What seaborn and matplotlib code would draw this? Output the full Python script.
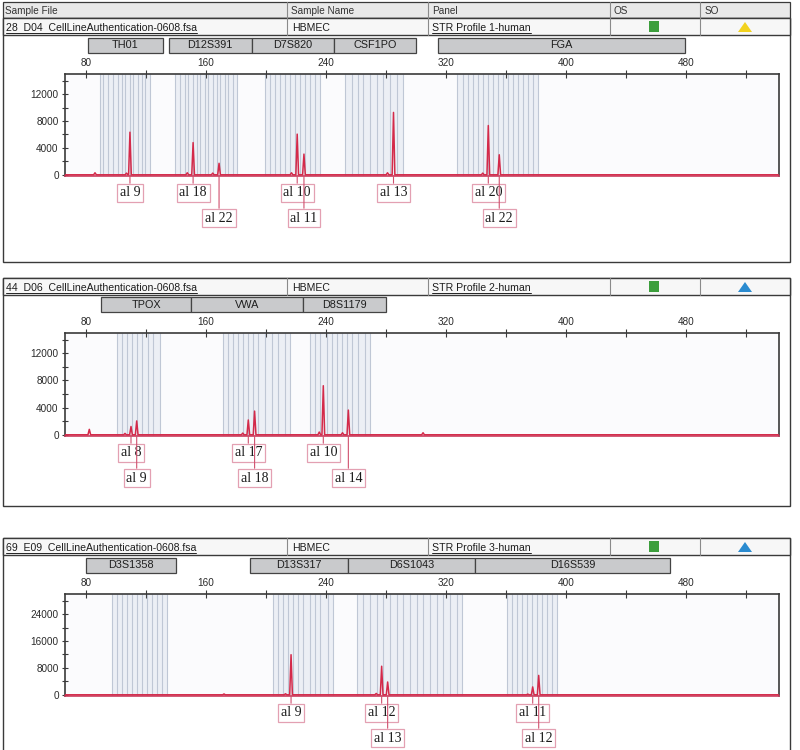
import matplotlib
matplotlib.use('Agg')
import matplotlib.pyplot as plt
import matplotlib.transforms as mtransforms
from matplotlib.patches import Rectangle, Polygon
import pandas as pd
import seaborn as sns

sns.set_theme(style='white')
plt.rcParams['font.family'] = ['Liberation Sans', 'DejaVu Sans']

# ---- data (bp, RFU) ----
p1_files = "28  D04  CellLineAuthentication-0608.fsa"
p2_files = "44  D06  CellLineAuthentication-0608.fsa"
p3_files = "69  E09  CellLineAuthentication-0608.fsa"
sample_name = "HBMEC"
panel_names = ["STR Profile 1-human", "STR Profile 2-human", "STR Profile 3-human"]

p1_markers = ["TH01", "D12S391", "D7S820", "CSF1PO", "FGA"]
p1_marker_start = [81.3, 135.0, 190.7, 245.3, 314.7]
p1_marker_end = [131.0, 190.7, 245.3, 300.0, 479.3]
p2_markers = ["TPOX", "VWA", "D8S1179"]
p2_marker_start = [90.0, 150.0, 224.7]
p2_marker_end = [150.0, 224.7, 280.0]
p3_markers = ["D3S1358", "D13S317", "D6S1043", "D16S539"]
p3_marker_start = [79.8, 189.3, 254.5, 339.3]
p3_marker_end = [139.8, 254.5, 339.3, 469.3]

p1_peak_bp = [86.0, 107.0, 109.3, 147.5, 151.4, 164.5, 168.7, 217.0, 220.8, 225.3, 281.0, 285.0, 344.5, 348.2, 355.5]
p1_peak_rfu = [300, 250, 6340, 300, 4790, 250, 1710, 300, 6050, 3080, 300, 9280, 250, 7330, 2980]
p2_peak_bp = [82.2, 106.0, 110.0, 113.8, 184.5, 188.2, 192.4, 235.5, 238.2, 251.0, 254.9, 304.7]
p2_peak_rfu = [800, 200, 1220, 2040, 250, 2180, 3490, 400, 7230, 300, 3640, 300]
p3_peak_bp = [172.0, 213.0, 216.7, 273.5, 277.1, 281.1, 374.5, 377.8, 381.8]
p3_peak_rfu = [250, 300, 11930, 400, 8500, 3810, 200, 2340, 5770]

p1_alleles = ["al 9", "al 18", "al 22", "al 10", "al 11", "al 13", "al 20", "al 22"]
p1_allele_bp = [109.3, 151.4, 168.7, 220.8, 225.3, 285.0, 348.2, 355.5]
p1_allele_row = [0, 0, 1, 0, 1, 0, 0, 1]
p2_alleles = ["al 8", "al 9", "al 17", "al 18", "al 10", "al 14"]
p2_allele_bp = [110.0, 113.8, 188.2, 192.4, 238.2, 254.9]
p2_allele_row = [0, 1, 0, 1, 0, 1]
p3_alleles = ["al 9", "al 12", "al 13", "al 11", "al 12"]
p3_allele_bp = [216.7, 277.1, 281.1, 377.8, 381.8]
p3_allele_row = [0, 0, 1, 0, 1]

# allele bins (bp)
p1_bins = [89.3, 91.5, 94.9, 98.2, 101.5, 103.8, 106.0, 109.3, 111.5, 114.9, 117.1, 119.3, 122.7,
           139.3, 142.7, 146.0, 148.2, 151.5, 153.8, 156.0, 159.3, 161.5, 164.9, 167.1, 169.3, 172.7, 174.9, 178.2, 180.4,
           199.3, 202.7, 206.0, 209.3, 212.7, 216.0, 219.3, 222.7, 226.0, 229.3, 232.7, 236.0,
           252.7, 257.1, 261.5, 264.9, 269.3, 273.8, 278.2, 282.7, 287.1, 291.5,
           327.1, 331.5, 334.9, 338.2, 341.5, 344.9, 348.2, 351.5, 354.9, 358.2, 361.5, 364.9, 368.2, 371.5, 374.9, 378.2, 381.5]
p2_bins = [100.4, 103.8, 107.1, 110.4, 113.8, 117.1, 121.5, 124.9, 129.3,
           171.5, 174.9, 178.2, 181.5, 184.9, 188.2, 191.5, 194.9, 199.3, 203.8, 208.2, 212.7, 216.0,
           229.3, 232.7, 236.0, 240.4, 243.8, 247.1, 250.4, 253.8, 257.1, 261.5, 266.0, 269.3]
p3_bins = [97.1, 100.4, 103.8, 107.1, 110.4, 113.8, 117.1, 120.4, 123.8, 127.1, 130.4, 133.8,
           204.9, 208.2, 211.5, 214.9, 218.2, 221.5, 224.9, 229.3, 232.7, 236.0, 241.5, 244.9,
           260.4, 264.9, 269.3, 273.8, 278.2, 282.7, 287.1, 291.5, 296.0, 300.4, 304.9, 309.3, 313.8, 318.2, 322.7, 327.1, 330.4,
           360.4, 363.8, 367.1, 370.4, 373.8, 377.1, 380.4, 383.8, 387.1, 390.4, 393.8]

# ---- layout (pixels) ----
W, H = 800, 750
fig = plt.figure(figsize=(8, 7.5), dpi=100)
fig.patch.set_facecolor('white')

bg = fig.add_axes([0, 0, 1, 1])
bg.set_xlim(0, W)
bg.set_ylim(H, 0)
bg.axis('off')

EDGE = '#3a3a3a'
cols = [287, 428, 610, 700]
underlines = []

# top table header
bg.add_patch(Rectangle((3, 2), 787, 16, fc='#e9e9e9', ec=EDGE, lw=0.9))
for cx in cols:
    bg.plot([cx, cx], [2, 18], color='#8a8a8a', lw=0.8)
for txt, cx in zip(["Sample File", "Sample Name", "Panel", "OS", "SO"], [5, 291, 432, 614, 705]):
    bg.text(cx, 10.5, txt, fontsize=7.2, color='#333333', va='center', ha='left')


def sample_row(y0, y1, fname, pname, tri_color):
    # outer frame of the panel
    bg.add_patch(Rectangle((3, y0), 787, y1 - y0, fc='none', ec=EDGE, lw=1.0))
    bg.add_patch(Rectangle((3, y0), 787, 17, fc='#f7f7f7', ec=EDGE, lw=1.0))
    for cx in cols:
        bg.plot([cx, cx], [y0, y0 + 17], color='#8a8a8a', lw=0.8)
    t1 = bg.text(6, y0 + 10, fname, fontsize=7.6, color='#1e1e1e', va='center')
    bg.text(292, y0 + 10, sample_name, fontsize=7.6, color='#1e1e1e', va='center')
    t3 = bg.text(432, y0 + 10, pname, fontsize=7.6, color='#1e1e1e', va='center')
    underlines.extend([(t1, y0 + 15), (t3, y0 + 15)])
    bg.add_patch(Rectangle((649, y0 + 3), 10, 11, fc='#3c9e3c', ec='none'))
    bg.add_patch(Polygon([(738, y0 + 14), (752, y0 + 14), (745, y0 + 4)], closed=True, fc=tri_color, ec='none'))


sample_row(18, 262, p1_files, panel_names[0], '#f2d21e')
sample_row(278, 506, p2_files, panel_names[1], '#2a8bd0')
sample_row(538, 752, p3_files, panel_names[2], '#2a8bd0')


def px_axes(x0, y0, x1, y1):
    return fig.add_axes([x0 / W, 1 - y1 / H, (x1 - x0) / W, (y1 - y0) / H])


def trace(bps, rfus, hw=0.9):
    xs, ys = [66.0], [0.0]
    for p, h in sorted(zip(bps, rfus)):
        xs += [p - hw, p, p + hw]
        ys += [0, h, 0]
    xs.append(542.0)
    ys.append(0.0)
    return pd.DataFrame({'bp': xs, 'rfu': ys})


def bin_groups(bins, gap=8):
    # split sorted bin list into loci wherever a big gap appears
    groups = [[bins[0]]]
    for b in bins[1:]:
        if b - groups[-1][-1] > gap:
            groups.append([b])
        else:
            groups[-1].append(b)
    return [(g[0], g[-1]) for g in groups]


def draw_panel(ax, bins, peaks, markers, alleles, ymax, ystep):
    ax.set_facecolor('#fbfbfd')
    for g0, g1 in bin_groups(bins):
        ax.axvspan(g0, g1, color='#eceff5', lw=0, zorder=0.5)
    ax.vlines(bins, 0, 1, transform=ax.get_xaxis_transform(), color='#bfc7d5', lw=0.8, zorder=1)
    df = trace(*peaks)
    sns.lineplot(data=df, x='bp', y='rfu', ax=ax, sort=False, estimator=None,
                 color='#d42a4a', lw=1.1, zorder=3)
    ax.set_xlim(66, 542)
    ax.set_ylim(-ymax * 0.012, ymax)
    ax.set_xlabel('')
    ax.set_ylabel('')
    ax.xaxis.tick_top()
    ax.set_xticks(range(80, 521, 40))
    ax.set_xticklabels([str(v) if (v // 40) % 2 == 0 else '' for v in range(80, 521, 40)])
    ax.set_yticks([0, ystep, 2 * ystep, 3 * ystep])
    ax.set_yticks([ystep / 2 * k for k in range(0, 8)], minor=True)
    ax.tick_params(axis='x', which='major', direction='inout', length=6, width=0.8,
                   color=EDGE, labelsize=7.2, labelcolor='#2a2a2a', pad=1, top=True, bottom=False)
    ax.tick_params(axis='y', which='both', direction='inout', length=5, width=0.8,
                   color=EDGE, labelsize=7.2, labelcolor='#2a2a2a', pad=2, left=True)
    for s in ax.spines.values():
        s.set_color(EDGE)
        s.set_linewidth(1.2)
    ax.spines['bottom'].set_color('#c84060')

    # marker boxes above the axis
    names, starts, ends = markers
    hpx = ax.get_position().height * H
    blend = mtransforms.blended_transform_factory(ax.transData, ax.transAxes)
    for nm, s0, s1 in zip(names, starts, ends):
        ax.add_patch(Rectangle((s0, 1 + 21 / hpx), s1 - s0, 15 / hpx, transform=blend,
                               fc='#c9cacc', ec='#444444', lw=0.9, clip_on=False))
        ax.text((s0 + s1) / 2, 1 + 28.5 / hpx, nm, transform=blend, ha='center', va='center',
                fontsize=7.8, color='#1e1e1e')

    # allele labels under the axis
    labs, bps, rows = alleles
    for lab, bp, row in zip(labs, bps, rows):
        ax.annotate(lab, xy=(bp, 0), xycoords=blend,
                    xytext=(0, -(17 + 25 * row)), textcoords='offset pixels',
                    ha='center', va='center', fontsize=10, family='Liberation Serif',
                    color='#1a1a1a', annotation_clip=False,
                    bbox=dict(boxstyle='square,pad=0.2', fc='white', ec='#e3a0b2', lw=0.9),
                    arrowprops=dict(arrowstyle='-', color='#d0506e', lw=0.8, shrinkA=0, shrinkB=0))


ax1 = px_axes(65, 74, 779, 176)
draw_panel(ax1, p1_bins, (p1_peak_bp, p1_peak_rfu),
           (p1_markers, p1_marker_start, p1_marker_end),
           (p1_alleles, p1_allele_bp, p1_allele_row), 15000, 4000)

ax2 = px_axes(65, 333, 779, 436)
draw_panel(ax2, p2_bins, (p2_peak_bp, p2_peak_rfu),
           (p2_markers, p2_marker_start, p2_marker_end),
           (p2_alleles, p2_allele_bp, p2_allele_row), 15000, 4000)

ax3 = px_axes(65, 594, 779, 696)
draw_panel(ax3, p3_bins, (p3_peak_bp, p3_peak_rfu),
           (p3_markers, p3_marker_start, p3_marker_end),
           (p3_alleles, p3_allele_bp, p3_allele_row), 30000, 8000)

# underline file and panel names
fig.canvas.draw()
inv = bg.transData.inverted()
for t, yy in underlines:
    bb = t.get_window_extent()
    (xa, _), (xb, _) = inv.transform([(bb.x0, bb.y0), (bb.x1, bb.y0)])
    bg.plot([xa, xb], [yy, yy], color='#222222', lw=0.7)

fig.savefig('out.png', dpi=100)
